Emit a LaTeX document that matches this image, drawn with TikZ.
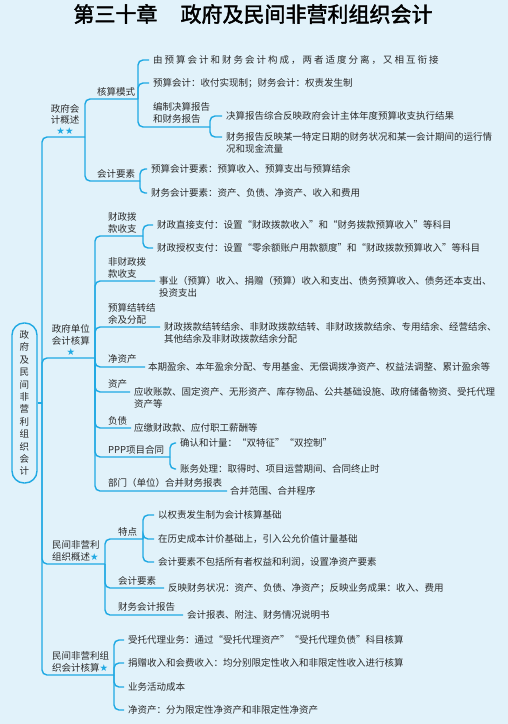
\documentclass[tikz,border=0pt]{standalone}
\usepackage{fontspec}
\usepackage{xcolor}
\usetikzlibrary{positioning, calc}
\newfontfamily\cjk{Noto Sans CJK SC}
\newfontfamily\cjkwide[LetterSpace=21]{Noto Sans CJK SC}
\newfontfamily\cjktitle[FakeBold=2]{Noto Sans CJK SC}
\newfontfamily\symb{DejaVu Sans}
\definecolor{bgblue}{HTML}{E1F2FA}
\definecolor{linkblue}{HTML}{1FA9E3}
\definecolor{inkgray}{HTML}{2B2B2B}
\newcommand{\bluestar}{{\symb\color{linkblue}★}}

\begin{document}
\begin{tikzpicture}[x=1pt, y=-1pt,
	txt/.style={font=\cjk\fontsize{9.5}{12}\selectfont, text=inkgray, inner sep=0pt, align=left},
	leaf/.style={txt, anchor=west},
	leaftwo/.style={txt, anchor=north west},
	topic/.style={txt, anchor=south west},
	link/.style={draw=linkblue, line width=1.4pt, rounded corners=5pt}]
	\fill[bgblue] (0,0) rectangle (508,724);
	\useasboundingbox (0,0) rectangle (508,724);
	\node[font=\cjktitle\fontsize{21}{24}\selectfont, text=black, inner sep=0pt] (title) at (253,14) {第三十章\hspace{1.1em}政府及民间非营利组织会计};

	% root
	\node[draw=linkblue, line width=1.4pt, rounded corners=12pt, minimum width=25pt, minimum height=160pt,
		inner sep=0pt, font=\cjk\fontsize{9.5}{12.4}\selectfont, text=inkgray, align=center] (root) at (24.5,403)
		{政\\府\\及\\民\\间\\非\\营\\利\\组\\织\\会\\计};
	\coordinate (root-j) at (42,403);
	\draw[link] (root.east) -- (root-j);

	% 政府会计概述
	\node[txt, align=center, anchor=south, font=\cjk\fontsize{9.5}{11}\selectfont] (gk) at (65,135) {政府会\\计概述\\\bluestar\bluestar};
	\coordinate (gk-j) at (85,137);
	\node[topic] (hs) at (97,96) {核算模式};
	\coordinate (hs-j) at (138,99);
	\node[leaf, font=\cjkwide\fontsize{9.5}{12}\selectfont] (hs1) at (153,60) {由预算会计和财务会计构成，两者适度分离，又相互衔接};
	\node[leaf] (hs2) at (153,83) {预算会计：收付实现制；财务会计：权责发生制};
	\node[topic] (bz) at (153,124) {编制决算报告\\和财务报告};
	\coordinate (bz-j) at (210,127);
	\node[leaf] (bz1) at (226,116) {决算报告综合反映政府会计主体年度预算收支执行结果};
	\node[leaftwo] (bz2) at (226,132.5) {财务报告反映某一特定日期的财务状况和某一会计期间的运行情\\况和现金流量};
	\node[topic] (gy) at (97,178) {会计要素};
	\coordinate (gy-j) at (140,181);
	\node[leaf] (gy1) at (151,169) {预算会计要素：预算收入、预算支出与预算结余};
	\node[leaf] (gy2) at (151,193) {财务会计要素：资产、负债、净资产、收入和费用};

	% 政府单位会计核算
	\node[txt, align=center, anchor=south, font=\cjk\fontsize{9.5}{11.5}\selectfont] (dw) at (71,356) {政府单位\\会计核算\\\bluestar};
	\coordinate (dw-j) at (95,358);
	\node[topic] (cz) at (108,233) {财政拨\\款收支};
	\coordinate (cz-j) at (143,236);
	\node[leaf] (cz1) at (157,225) {财政直接支付：设置“财政拨款收入”和“财务拨款预算收入”等科目};
	\node[leaf] (cz2) at (157,248) {财政授权支付：设置“零余额账户用款额度”和“财政拨款预算收入”等科目};
	\node[topic] (fc) at (108,278) {非财政拨\\款收支};
	\node[leaftwo] (fc1) at (159,276.5) {事业（预算）收入、捐赠（预算）收入和支出、债务预算收入、债务还本支出、\\投资支出};
	\node[topic] (ys) at (108,324) {预算结转结\\余及分配};
	\node[leaftwo] (ys1) at (164,322.5) {财政拨款结转结余、非财政拨款结转、非财政拨款结余、专用结余、经营结余、\\其他结余及非财政拨款结余分配};
	\node[topic] (jz) at (108,364) {净资产};
	\node[leaf] (jz1) at (148,367) {本期盈余、本年盈余分配、专用基金、无偿调拨净资产、权益法调整、累计盈余等};
	\node[topic] (zc) at (108,389) {资产};
	\node[leaftwo] (zc1) at (134,387.5) {应收账款、固定资产、无形资产、库存物品、公共基础设施、政府储备物资、受托代理\\资产等};
	\node[topic] (fz) at (108,425) {负债};
	\node[leaf] (fz1) at (134,428) {应缴财政款、应付职工薪酬等};
	\node[topic] (ppp) at (108,454) {PPP项目合同};
	\coordinate (ppp-j) at (170,457);
	\node[leaf] (ppp1) at (180,443) {确认和计量：“双特征”“双控制”};
	\node[leaf] (ppp2) at (180,469) {账务处理：取得时、项目运营期间、合同终止时};
	\node[topic] (bm) at (108,488) {部门（单位）合并财务报表};
	\node[leaf] (bm1) at (230,491) {合并范围、合并程序};

	% 民间非营利组织概述
	\node[topic, font=\cjk\fontsize{9.5}{12}\selectfont] (mg) at (52,561) {民间非营利\\组织概述\bluestar};
	\coordinate (mg-j) at (105,564);
	\node[topic] (td) at (118,536) {特点};
	\coordinate (td-j) at (143,539);
	\node[leaf] (td1) at (158,515) {以权责发生制为会计核算基础};
	\node[leaf] (td2) at (158,539) {在历史成本计价基础上，引入公允价值计量基础};
	\node[leaf] (td3) at (158,562) {会计要素不包括所有者权益和利润，设置净资产要素};
	\node[topic] (my) at (118,585) {会计要素};
	\node[leaf] (my1) at (168,588) {反映财务状况：资产、负债、净资产；反映业务成果：收入、费用};
	\node[topic] (bg) at (118,612) {财务会计报告};
	\node[leaf] (bg1) at (187,615) {会计报表、附注、财务情况说明书};

	% 民间非营利组织会计核算
	\node[topic] (mh) at (52,672) {民间非营利组\\织会计核算\bluestar};
	\coordinate (mh-j) at (114,675);
	\node[leaf] (mh1) at (128,640) {受托代理业务：通过“受托代理资产”“受托代理负债”科目核算};
	\node[leaf] (mh2) at (128,663) {捐赠收入和会费收入：均分别限定性收入和非限定性收入进行核算};
	\node[leaf] (mh3) at (128,687) {业务活动成本};
	\node[leaf] (mh4) at (128,710) {净资产：分为限定性净资产和非限定性净资产};

	% connectors
	\foreach \k in {gk,dw,mg,mh}
		\draw[link] (root-j) |- (\k-j);
	\foreach \k in {hs,gy}
		\draw[link] (gk-j) |- (\k-j);
	\foreach \k in {hs1,hs2}
		\draw[link] (hs-j) |- ([xshift=-4pt]\k.west);
	\draw[link] (hs-j) |- (bz-j);
	\draw[link] (bz-j) |- ([xshift=-4pt]bz1.west);
	\draw[link] (bz-j) |- ([shift={(-4pt,-4.5pt)}]bz2.north west);
	\foreach \k in {gy1,gy2}
		\draw[link] (gy-j) |- ([xshift=-4pt]\k.west);
	\foreach \k in {cz,ppp}
		\draw[link] (dw-j) |- (\k-j);
	\foreach \k in {fc1,ys1,zc1}
		\draw[link] (dw-j) |- ([shift={(-4pt,-4.5pt)}]\k.north west);
	\foreach \k in {jz1,fz1,bm1}
		\draw[link] (dw-j) |- ([xshift=-3pt]\k.west);
	\foreach \k in {cz1,cz2}
		\draw[link] (cz-j) |- ([xshift=-4pt]\k.west);
	\foreach \k in {ppp1,ppp2}
		\draw[link] (ppp-j) |- ([xshift=-4pt]\k.west);
	\draw[link] (mg-j) |- (td-j);
	\foreach \k in {my1,bg1}
		\draw[link] (mg-j) |- ([xshift=-4pt]\k.west);
	\foreach \k in {td1,td2,td3}
		\draw[link] (td-j) |- ([xshift=-4pt]\k.west);
	\foreach \k in {mh1,mh2,mh3,mh4}
		\draw[link] (mh-j) |- ([xshift=-4pt]\k.west);
\end{tikzpicture}
\end{document}
